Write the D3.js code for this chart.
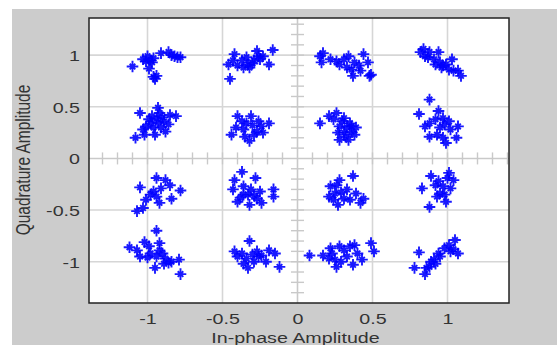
<!DOCTYPE html>
<html>
<head>
<meta charset="utf-8">
<script src="https://cdn.jsdelivr.net/npm/d3@7"></script>
<style>
  html, body { margin: 0; padding: 0; background: #ffffff; }
  svg { display: block; }
  text { font-family: "Liberation Sans", Arial, sans-serif; fill: #333333; }
</style>
</head>
<body>
<svg id="chart" width="557" height="345"></svg>
<script>
// Received 16-QAM symbols, grouped by quadrature row: [in-phase, quadrature]
const rowTop = [
  [-1.10,0.89],[-1.03,0.96],[-1.01,0.94],[-1.00,0.99],[-0.98,0.95],[-0.96,0.97],[-0.99,0.87],
  [-0.96,0.79],[-0.95,0.77],[-0.94,0.80],[-0.91,1.02],[-0.86,1.03],[-0.84,1.00],[-0.82,0.99],
  [-0.80,0.98],[-0.78,0.98],[-0.97,0.93],
  [-0.45,0.77],[-0.42,1.01],[-0.43,0.95],[-0.40,0.90],[-0.36,0.88],[-0.33,0.91],[-0.29,0.95],
  [-0.27,1.04],[-0.26,0.99],[-0.32,0.88],[-0.19,0.91],[-0.165,1.05],[-0.46,0.91],[-0.37,0.95],
  [-0.34,0.98],[-0.23,0.99],[-0.30,0.92],[-0.25,0.96],
  [0.15,0.99],[0.17,1.02],[0.16,0.93],[0.26,0.94],[0.31,0.96],[0.34,0.99],[0.33,0.88],
  [0.37,0.80],[0.41,0.90],[0.44,1.01],[0.47,0.93],[0.48,0.80],[0.28,0.91],[0.42,0.85],
  [0.36,0.86],[0.38,0.93],[0.49,0.81],[0.22,0.96],
  [0.82,1.03],[0.85,0.99],[0.88,1.03],[0.94,1.03],[0.91,0.96],[0.95,0.93],[0.97,0.90],
  [1.03,0.96],[1.01,0.86],[1.04,0.85],[1.07,0.85],[1.09,0.80],[0.92,0.91],[0.87,0.98],
  [0.99,0.91],[0.84,1.06],[0.96,0.88]
];
const rowUpper = [
  [-1.05,0.44],[-1.08,0.20],[-0.93,0.49],[-0.81,0.41],[-0.95,0.23],[-1.03,0.28],[-0.98,0.34],
  [-0.94,0.39],[-0.89,0.36],[-0.86,0.33],[-0.91,0.30],[-1.01,0.31],[-0.97,0.41],[-0.85,0.42],
  [-1.02,0.23],[-0.92,0.44],[-0.96,0.30],[-0.88,0.26],[-0.93,0.35],[-0.99,0.38],[-0.90,0.40],
  [-0.44,0.23],[-0.40,0.41],[-0.31,0.41],[-0.32,0.17],[-0.19,0.34],[-0.24,0.31],[-0.36,0.28],
  [-0.34,0.34],[-0.27,0.26],[-0.41,0.30],[-0.37,0.36],[-0.29,0.23],[-0.23,0.25],[-0.35,0.21],
  [-0.30,0.32],[-0.26,0.36],
  [0.15,0.34],[0.21,0.41],[0.26,0.44],[0.31,0.39],[0.28,0.31],[0.35,0.34],[0.31,0.25],
  [0.36,0.26],[0.28,0.18],[0.34,0.18],[0.39,0.30],[0.38,0.23],[0.24,0.38],[0.33,0.30],
  [0.27,0.25],[0.30,0.36],[0.36,0.31],[0.32,0.21],
  [0.88,0.57],[0.81,0.43],[0.94,0.46],[0.88,0.34],[0.97,0.39],[1.07,0.31],[0.88,0.21],
  [0.99,0.15],[1.06,0.20],[1.02,0.28],[0.95,0.30],[0.92,0.38],[0.98,0.33],[0.85,0.31],
  [0.93,0.23],[0.97,0.20],[1.01,0.36]
];
const rowLower = [
  [-1.05,-0.28],[-1.07,-0.51],[-0.94,-0.19],[-0.88,-0.21],[-0.85,-0.26],[-0.78,-0.31],[-0.98,-0.35],
  [-1.01,-0.40],[-0.96,-0.32],[-0.92,-0.43],[-0.84,-0.39],[-1.03,-0.48],[-0.91,-0.29],[-0.94,-0.37],
  [-0.37,-0.13],[-0.42,-0.21],[-0.28,-0.19],[-0.43,-0.30],[-0.16,-0.30],[-0.16,-0.37],[-0.36,-0.27],
  [-0.33,-0.35],[-0.27,-0.39],[-0.40,-0.42],[-0.32,-0.45],[-0.24,-0.43],[-0.31,-0.30],[-0.36,-0.35],
  [-0.25,-0.32],[-0.29,-0.36],[-0.38,-0.38],
  [0.37,-0.17],[0.28,-0.21],[0.22,-0.27],[0.21,-0.37],[0.27,-0.45],[0.33,-0.30],[0.39,-0.34],
  [0.44,-0.39],[0.31,-0.39],[0.25,-0.34],[0.35,-0.40],[0.26,-0.26],[0.42,-0.43],[0.29,-0.33],
  [0.24,-0.40],
  [1.01,-0.14],[0.89,-0.17],[1.04,-0.21],[0.83,-0.29],[0.92,-0.26],[0.97,-0.27],[0.95,-0.34],
  [1.02,-0.29],[0.88,-0.47],[0.99,-0.42],[0.93,-0.37],[0.98,-0.35],[0.94,-0.22],[1.00,-0.19]
];
const rowBottom = [
  [-0.94,-0.70],[-1.12,-0.86],[-1.07,-0.89],[-1.02,-0.81],[-0.92,-0.82],[-1.05,-0.95],[-0.98,-0.92],
  [-0.94,-0.95],[-0.88,-0.97],[-0.84,-1.00],[-0.79,-0.98],[-0.95,-1.06],[-0.78,-1.12],[-0.89,-1.02],
  [-0.92,-0.89],[-0.99,-0.85],[-0.90,-0.92],[-0.86,-1.01],[-1.00,-0.96],
  [-0.32,-0.80],[-0.42,-0.90],[-0.37,-0.92],[-0.34,-0.97],[-0.33,-1.06],[-0.27,-0.90],[-0.24,-0.94],
  [-0.19,-0.89],[-0.21,-1.00],[-0.15,-0.92],[-0.12,-1.05],[-0.29,-1.00],[-0.26,-0.95],[-0.40,-0.95],
  [-0.36,-1.02],[-0.30,-0.93],
  [0.08,-0.94],[0.22,-0.87],[0.28,-0.85],[0.38,-0.84],[0.49,-0.82],[0.51,-0.90],[0.21,-0.97],
  [0.26,-1.05],[0.33,-0.95],[0.37,-1.03],[0.43,-0.98],[0.31,-0.89],[0.25,-0.98],[0.17,-0.94],
  [0.35,-0.85],[0.29,-1.00],[0.40,-0.92],[0.23,-0.92],
  [0.78,-1.06],[0.81,-0.91],[0.85,-1.12],[0.88,-1.05],[0.91,-0.98],[0.94,-0.92],[0.98,-0.87],
  [1.02,-0.90],[1.05,-0.79],[1.07,-0.92],[0.86,-1.06],[0.95,-0.95],[1.01,-0.84],[0.92,-1.02],
  [0.89,-1.00],[1.04,-0.88]
];

const xTicks = [-1, -0.5, 0, 0.5, 1];
const yTicks = [-1, -0.5, 0, 0.5, 1];
const xTitle = "In-phase Amplitude";
const yTitle = "Quadrature Amplitude";

const samples = [...rowTop, ...rowUpper, ...rowLower, ...rowBottom];

const svg = d3.select("#chart");
const W = 557, H = 345;
const plot = { left: 89, right: 509, top: 18, bottom: 303 };
const textStretch = 1.27;
const fontSize = 15.5;

// figure background
svg.append("rect").attr("x", 12).attr("y", 9).attr("width", W - 12).attr("height", H - 9)
  .attr("fill", "#cccccc");

const x = d3.scaleLinear().domain([-1.39, 1.41]).range([plot.left, plot.right]);
const y = d3.scaleLinear().domain([-1.40, 1.36]).range([plot.bottom, plot.top]);

// axes area
svg.append("rect")
  .attr("x", plot.left).attr("y", plot.top)
  .attr("width", plot.right - plot.left).attr("height", plot.bottom - plot.top)
  .attr("fill", "#ffffff");

const g = svg.append("g");

// grid lines
g.selectAll("line.gx").data(xTicks.filter(d => d !== 0)).join("line")
  .attr("x1", d => x(d)).attr("x2", d => x(d))
  .attr("y1", plot.top).attr("y2", plot.bottom)
  .attr("stroke", "#d6d6d6").attr("stroke-width", 1.6);
g.selectAll("line.gy").data(yTicks.filter(d => d !== 0)).join("line")
  .attr("y1", d => y(d)).attr("y2", d => y(d))
  .attr("x1", plot.left).attr("x2", plot.right)
  .attr("stroke", "#d6d6d6").attr("stroke-width", 1.6);

// centre cross with 0.1 minor ticks
const axisColor = "#c9c9c9";
g.append("line").attr("x1", plot.left).attr("x2", plot.right)
  .attr("y1", y(0)).attr("y2", y(0)).attr("stroke", axisColor).attr("stroke-width", 1.6);
g.append("line").attr("x1", x(0)).attr("x2", x(0))
  .attr("y1", plot.top).attr("y2", plot.bottom).attr("stroke", axisColor).attr("stroke-width", 1.6);

const minorX = d3.range(-13, 15).map(d => d / 10).filter(d => Math.abs(d) > 1e-9);
const minorY = d3.range(-13, 14).map(d => d / 10).filter(d => Math.abs(d) > 1e-9);
g.selectAll("line.mx").data(minorX).join("line")
  .attr("x1", d => x(d)).attr("x2", d => x(d))
  .attr("y1", y(0) - 6).attr("y2", y(0) + 6)
  .attr("stroke", axisColor).attr("stroke-width", 1.4);
g.selectAll("line.my").data(minorY).join("line")
  .attr("y1", d => y(d)).attr("y2", d => y(d))
  .attr("x1", x(0) - 6.5).attr("x2", x(0) + 6.5)
  .attr("stroke", axisColor).attr("stroke-width", 1.4);

// symbol markers: a plus with shorter diagonals
const a = 5.8, b = 2.8;
const star = `M${-a},0H${a}M0,${-a}V${a}M${-b},${-b}L${b},${b}M${-b},${b}L${b},${-b}`;
g.selectAll("path.pt").data(samples).join("path")
  .attr("class", "pt")
  .attr("transform", d => `translate(${x(d[0])},${y(d[1])})`)
  .attr("d", star)
  .attr("fill", "none")
  .attr("stroke", "#0000ff")
  .attr("stroke-width", 1.9)
  .attr("stroke-opacity", 0.9);

// frame
svg.append("rect")
  .attr("x", plot.left).attr("y", plot.top)
  .attr("width", plot.right - plot.left).attr("height", plot.bottom - plot.top)
  .attr("fill", "none").attr("stroke", "#222222").attr("stroke-width", 1.5);

// tick labels via d3 axes
const fmt = d => d3.format("")(d).replace("−", "-");
const xAxis = svg.append("g").attr("transform", `translate(0,${plot.bottom})`)
  .call(d3.axisBottom(x).tickValues(xTicks).tickSize(0).tickFormat(fmt));
xAxis.select(".domain").remove();
xAxis.selectAll("text")
  .attr("y", 0).attr("dy", null)
  .attr("transform", `translate(0,21) scale(${textStretch},1)`)
  .style("font-size", fontSize + "px").style("fill", "#333333")
  .style("font-family", '"Liberation Sans", Arial, sans-serif');

const yAxis = svg.append("g").attr("transform", `translate(${plot.left},0)`)
  .call(d3.axisLeft(y).tickValues(yTicks).tickSize(0).tickFormat(fmt));
yAxis.select(".domain").remove();
yAxis.selectAll("text")
  .attr("x", 0).attr("dy", null).attr("y", 0)
  .attr("text-anchor", "end")
  .attr("transform", `translate(-9,5.5) scale(${textStretch},1)`)
  .style("font-size", fontSize + "px").style("fill", "#333333")
  .style("font-family", '"Liberation Sans", Arial, sans-serif');

// axis titles
svg.append("text")
  .attr("transform", `translate(${x(0) - 2},343) scale(${textStretch},1)`)
  .attr("text-anchor", "middle")
  .style("font-size", fontSize + "px")
  .text(xTitle);
svg.append("text")
  .attr("transform", `translate(30,160) scale(${textStretch},1) rotate(-90)`)
  .attr("text-anchor", "middle")
  .style("font-size", fontSize + "px")
  .text(yTitle);
</script>
</body>
</html>
